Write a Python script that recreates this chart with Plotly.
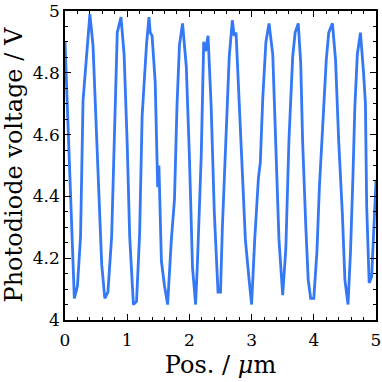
import plotly.graph_objects as go

# position along the sample (um) and photodiode voltage (V)
pos = [0.00, 0.05, 0.10, 0.15, 0.20, 0.25, 0.29, 0.35, 0.40, 0.45,
       0.52, 0.59, 0.64, 0.69, 0.75, 0.80, 0.84, 0.90, 0.95, 1.00,
       1.04, 1.10, 1.15, 1.20, 1.24, 1.31, 1.35, 1.37, 1.40, 1.45,
       1.49, 1.51, 1.55, 1.60, 1.65, 1.71, 1.76, 1.80, 1.84, 1.89,
       1.95, 2.00, 2.05, 2.10, 2.13, 2.19, 2.23, 2.26, 2.30, 2.35,
       2.40, 2.46, 2.50, 2.53, 2.58, 2.64, 2.69, 2.72, 2.75, 2.80,
       2.85, 2.90, 2.96, 3.00, 3.05, 3.11, 3.14, 3.18, 3.23, 3.28,
       3.34, 3.39, 3.44, 3.50, 3.55, 3.60, 3.66, 3.70, 3.75, 3.79,
       3.82, 3.87, 3.91, 3.95, 4.00, 4.05, 4.09, 4.16, 4.20, 4.24,
       4.30, 4.35, 4.40, 4.46, 4.50, 4.55, 4.59, 4.63, 4.66, 4.70,
       4.75, 4.80, 4.83, 4.85, 4.89, 4.93, 5.00]
voltage = [4.90, 4.62, 4.33, 4.07, 4.11, 4.27, 4.71, 4.87, 4.99, 4.89,
           4.52, 4.18, 4.07, 4.09, 4.27, 4.64, 4.93, 4.98, 4.86, 4.57,
           4.27, 4.05, 4.06, 4.28, 4.66, 4.89, 4.98, 4.93, 4.92, 4.77,
           4.43, 4.50, 4.19, 4.11, 4.05, 4.26, 4.39, 4.69, 4.89, 4.96,
           4.82, 4.53, 4.17, 4.05, 4.19, 4.53, 4.90, 4.87, 4.92, 4.69,
           4.35, 4.09, 4.09, 4.30, 4.56, 4.85, 4.97, 4.92, 4.93, 4.69,
           4.47, 4.26, 4.13, 4.05, 4.26, 4.46, 4.51, 4.72, 4.90, 4.96,
           4.86, 4.56, 4.26, 4.08, 4.23, 4.58, 4.85, 4.93, 4.96, 4.83,
           4.58, 4.31, 4.13, 4.07, 4.07, 4.22, 4.43, 4.69, 4.84, 4.93,
           4.96, 4.84, 4.58, 4.34, 4.13, 4.05, 4.22, 4.47, 4.69, 4.86,
           4.93, 4.80, 4.70, 4.37, 4.12, 4.14, 4.45]

x_ticks = [0, 1, 2, 3, 4, 5]
y_ticks = [4.0, 4.2, 4.4, 4.6, 4.8, 5.0]
y_labels = ["4", "4.2", "4.4", "4.6", "4.8", "5"]

fig = go.Figure()
fig.add_trace(go.Scatter(x=pos, y=voltage, mode="lines",
                         line=dict(color="#3478f6", width=2.8)))

tick_font = dict(family="DejaVu Serif, serif", size=17, color="black")
title_font = dict(family="DejaVu Serif, serif", size=24, color="black")
axis_common = dict(showline=True, linecolor="black", linewidth=1.5, mirror="ticks",
                   ticks="inside", ticklen=6, tickwidth=1.3, tickcolor="black",
                   showgrid=False, zeroline=False, tickfont=tick_font, automargin=False,
                   ticklabeloverflow="allow")

fig.update_xaxes(range=[0, 5], tickvals=x_ticks, ticklabelstandoff=4,
                 title=dict(text="Pos. / <i>μ</i>m", font=title_font, standoff=7),
                 minor=dict(ticks="inside", dtick=0.2, ticklen=3, tickwidth=1, tickcolor="black"),
                 **axis_common)
fig.update_yaxes(range=[4, 5], tickvals=y_ticks, ticktext=y_labels,
                 minor=dict(ticks="inside", dtick=0.05, ticklen=3, tickwidth=1, tickcolor="black"),
                 **axis_common)

# y title as an annotation so it can sit close to the left edge
fig.add_annotation(text="Photodiode voltage / V", textangle=-90, font=title_font,
                   xref="paper", yref="paper", x=0, y=0.5, xanchor="center", yanchor="middle",
                   xshift=-52, showarrow=False)

fig.update_layout(width=382, height=382, showlegend=False,
                  margin=dict(l=65, r=6, t=11, b=62),
                  plot_bgcolor="white", paper_bgcolor="white", font=tick_font)

# drop the browser's default body margin so the figure fills the window
fig.write_html("out.html", config={"displayModeBar": False},
               post_script="document.body.style.margin = '0';")
